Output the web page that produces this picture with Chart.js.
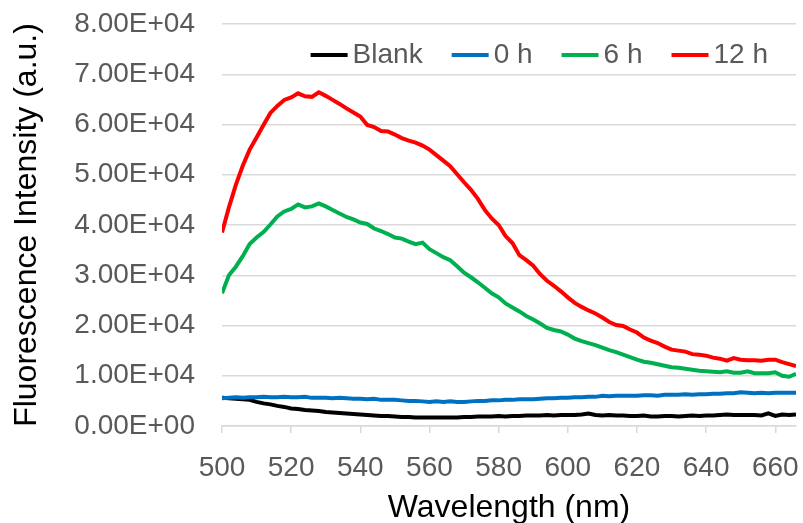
<!DOCTYPE html>
<html>
<head>
<meta charset="utf-8">
<script src="https://cdn.jsdelivr.net/npm/chart.js@4"></script>
<style>
  body { margin: 0; background: #fff; }
</style>
</head>
<body>
<canvas id="chart" width="803" height="523"></canvas>
<script>
// Wavelength (nm) at every 2 nm
const wavelengths = [
  500, 502, 504, 506, 508, 510, 512, 514, 516, 518, 520, 522, 524, 526, 528, 530, 532, 534, 536, 538,
  540, 542, 544, 546, 548, 550, 552, 554, 556, 558, 560, 562, 564, 566, 568, 570, 572, 574, 576, 578,
  580, 582, 584, 586, 588, 590, 592, 594, 596, 598, 600, 602, 604, 606, 608, 610, 612, 614, 616, 618,
  620, 622, 624, 626, 628, 630, 632, 634, 636, 638, 640, 642, 644, 646, 648, 650, 652, 654, 656, 658,
  660, 662, 664, 666
];

const blank = [
  5600, 5500, 5400, 5300, 5200, 4800, 4500, 4300, 4000, 3800, 3500, 3400, 3200, 3100, 3000, 2800, 2700, 2600, 2500, 2400,
  2300, 2200, 2100, 2000, 2000, 1900, 1800, 1800, 1700, 1700, 1700, 1700, 1700, 1700, 1700, 1800, 1800, 1900, 1900, 1900,
  2000, 1900, 2000, 2000, 2100, 2100, 2100, 2200, 2100, 2200, 2200, 2200, 2300, 2500, 2200, 2100, 2200, 2100, 2100, 2000,
  2000, 2100, 1900, 1900, 2000, 2000, 1900, 2000, 2100, 2000, 2100, 2100, 2200, 2300, 2200, 2200, 2200, 2200, 2100, 2500,
  2000, 2300, 2200, 2300
];

const hour0 = [
  5500, 5600, 5700, 5600, 5700, 5700, 5800, 5700, 5700, 5800, 5700, 5700, 5800, 5600, 5600, 5600, 5500, 5600, 5500, 5400,
  5400, 5300, 5400, 5200, 5200, 5200, 5100, 5000, 5000, 4900, 4800, 4900, 4800, 4900, 4800, 4800, 4900, 5000, 5000, 5100,
  5100, 5200, 5200, 5300, 5300, 5300, 5400, 5500, 5500, 5600, 5600, 5700, 5700, 5800, 5800, 6000, 5900, 6000, 6000, 6000,
  6000, 6100, 6100, 6000, 6200, 6200, 6200, 6300, 6200, 6300, 6300, 6400, 6400, 6500, 6500, 6700, 6600, 6500, 6600, 6500,
  6600, 6600, 6600, 6600
];

const hour6 = [
  26400, 30000, 31700, 33800, 36200, 37500, 38600, 40100, 41700, 42700, 43200, 44100, 43500, 43700, 44300, 43700, 43000, 42300, 41600, 41100,
  40500, 40200, 39300, 38800, 38200, 37500, 37300, 36700, 36200, 36500, 35200, 34400, 33600, 33000, 31800, 30500, 29600, 28600, 27500, 26400,
  25600, 24400, 23600, 22800, 21900, 21200, 20400, 19500, 19100, 18800, 18200, 17400, 16900, 16500, 16100, 15600, 15100, 14700, 14200, 13700,
  13200, 12800, 12600, 12300, 12000, 11700, 11600, 11400, 11200, 11000, 10900, 10800, 10700, 10900, 10600, 10600, 10900, 10500, 10500, 10500,
  10700, 10000, 9800, 10400
];

const hour12 = [
  38500, 43500, 48000, 51800, 55000, 57400, 59900, 62300, 63700, 64900, 65400, 66200, 65600, 65500, 66400, 65700, 64900, 64100, 63200, 62400,
  61600, 59900, 59500, 58700, 58600, 58000, 57300, 56800, 56400, 55800, 55000, 53900, 52800, 51700, 50100, 48500, 47000, 45200, 43000, 41300,
  40000, 37800, 36400, 34000, 33000, 31900, 30200, 28900, 27900, 26800, 25600, 24500, 23700, 23000, 22400, 21600, 20700, 20100, 19900, 19200,
  18600, 17600, 17000, 16500, 15800, 15200, 15000, 14800, 14300, 14200, 14000, 13600, 13400, 13000, 13500, 13200, 13100, 13100, 13000, 13200,
  13200, 12700, 12300, 11900
];

const seriesNames = ['Blank', '0 h', '6 h', '12 h'];
const seriesColors = ['#000000', '#0070c0', '#00b050', '#ff0000'];
const seriesValues = [blank, hour0, hour6, hour12];

// Excel style number format, e.g. 8.00E+04
function sci(v) {
  if (v === 0) return '0.00E+00';
  const e = Math.floor(Math.log10(Math.abs(v)));
  const m = v / Math.pow(10, e);
  return m.toFixed(2) + 'E' + (e < 0 ? '-' : '+') + String(Math.abs(e)).padStart(2, '0');
}

const FONT = "'Liberation Sans', Arial, sans-serif";

// Legend drawn inside the plot area, top right, like the Excel original
const insideLegend = {
  id: 'insideLegend',
  afterDraw(chart) {
    const ctx = chart.ctx;
    const area = chart.chartArea;
    const lineLen = 37, gap = 5, spacing = 29;
    ctx.save();
    ctx.font = '28px ' + FONT;
    ctx.textBaseline = 'middle';
    const items = chart.data.datasets.map(ds => ({
      text: ds.label, color: ds.borderColor, w: ctx.measureText(ds.label).width
    }));
    let total = 0;
    items.forEach((it, i) => { total += lineLen + gap + it.w + (i < items.length - 1 ? spacing : 0); });
    let x = area.right - 28 - total;
    const y = area.top + 31;
    items.forEach(it => {
      ctx.strokeStyle = it.color;
      ctx.lineWidth = 4;
      ctx.beginPath();
      ctx.moveTo(x, y);
      ctx.lineTo(x + lineLen, y);
      ctx.stroke();
      ctx.fillStyle = '#595959';
      ctx.fillText(it.text, x + lineLen + gap, y);
      x += lineLen + gap + it.w + spacing;
    });
    ctx.restore();
  }
};

new Chart(document.getElementById('chart').getContext('2d'), {
  type: 'line',
  data: {
    datasets: seriesNames.map((name, s) => ({
      label: name,
      data: wavelengths.map((w, i) => ({ x: w, y: seriesValues[s][i] })),
      borderColor: seriesColors[s],
      backgroundColor: seriesColors[s],
      borderWidth: 4,
      pointRadius: 0,
      tension: 0,
      fill: false,
      order: seriesNames.length - s  // later series painted on top
    }))
  },
  options: {
    responsive: false,
    animation: false,
    devicePixelRatio: 1,
    layout: { padding: { left: 0, right: 7, top: 24, bottom: 0 } },
    plugins: {
      legend: { display: false },
      tooltip: { enabled: false }
    },
    scales: {
      x: {
        type: 'linear',
        min: 500,
        max: 666,
        afterFit: scale => {
          scale.height = 97;
          scale.paddingLeft = 0;
          scale.paddingRight = 0;
        },
        ticks: {
          stepSize: 20,
          includeBounds: false,
          color: '#595959',
          padding: 18,
          maxRotation: 0,
          font: { family: FONT, size: 28 }
        },
        grid: {
          drawOnChartArea: false,
          drawTicks: true,
          tickLength: 7,
          color: '#d9d9d9',
          lineWidth: 1.5
        },
        border: { display: true, color: '#d9d9d9', width: 1.5 },
        title: {
          display: true,
          text: 'Wavelength (nm)',
          color: '#000000',
          font: { family: FONT, size: 32 },
          padding: { top: 0, bottom: -4 }
        }
      },
      y: {
        min: 0,
        max: 80000,
        afterFit: scale => {
          scale.width = 222;
          scale.paddingTop = 0;
          scale.paddingBottom = 0;
        },
        ticks: {
          stepSize: 10000,
          color: '#595959',
          padding: 27,
          font: { family: FONT, size: 28 },
          callback: v => sci(v)
        },
        grid: {
          drawTicks: false,
          color: '#d9d9d9',
          lineWidth: 1.5
        },
        border: { display: false },
        title: {
          display: true,
          text: 'Fluorescence Intensity (a.u.)',
          color: '#000000',
          font: { family: FONT, size: 32 },
          padding: { top: 8, bottom: 0 }
        }
      }
    }
  },
  plugins: [insideLegend]
});
</script>
</body>
</html>
